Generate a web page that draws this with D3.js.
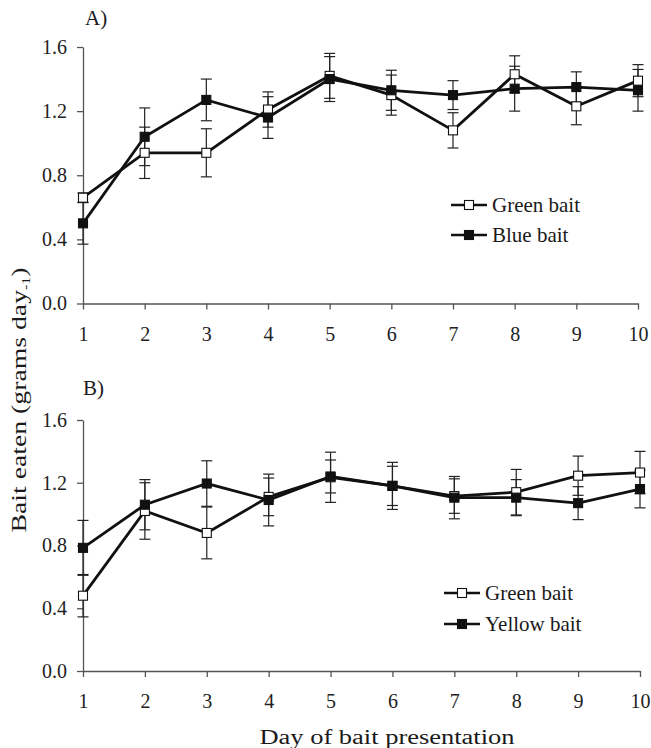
<!DOCTYPE html>
<html>
<head>
  <meta charset="utf-8">
  <style>
    html, body {
      margin: 0;
      padding: 0;
      background: #fff;
      width: 651px;
      height: 748px;
      overflow: hidden;
    }
    svg { display: block; }
    text { font-family: "Liberation Serif", "DejaVu Serif", serif; fill: #1a1a1a; }
    .axis path, .axis line { stroke: #555; stroke-width: 1.3px; }
    .axis text { font-size: 20px; fill: #222; }
    .series { fill: none; stroke: #111; stroke-width: 2.8px; stroke-linejoin: miter; }
    .err { stroke: #222; stroke-width: 1.2px; }
  </style>
</head>
<body>
  <svg width="651" height="748"></svg>

  <script src="https://d3js.org/d3.v7.min.js"></script>
  <script>
    // data
    const days = [1, 2, 3, 4, 5, 6, 7, 8, 9, 10];
    const yTicks = [0, 0.4, 0.8, 1.2, 1.6];

    const greenA    = [0.66, 0.94, 0.94, 1.21, 1.42, 1.30, 1.08, 1.43, 1.23, 1.39];
    const greenAErr = [0.03, 0.16, 0.15, 0.11, 0.14, 0.125, 0.11, 0.115, 0.115, 0.10];
    const blueA     = [0.50, 1.04, 1.27, 1.16, 1.40, 1.33, 1.30, 1.34, 1.35, 1.33];
    const blueAErr  = [0.13, 0.18, 0.13, 0.13, 0.14, 0.125, 0.09, 0.14, 0.095, 0.13];

    const greenB     = [0.48, 1.02, 0.88, 1.11, 1.235, 1.18, 1.115, 1.14, 1.245, 1.265];
    const greenBErr  = [0.135, 0.18, 0.165, 0.12, 0.16, 0.15, 0.11, 0.145, 0.125, 0.135];
    const yellowB    = [0.785, 1.06, 1.195, 1.09, 1.24, 1.18, 1.105, 1.105, 1.07, 1.16];
    const yellowBErr = [0.175, 0.16, 0.145, 0.165, 0.105, 0.125, 0.135, 0.115, 0.105, 0.12];

    const svg = d3.select("svg");

    const panels = [
      {
        label: "A)", labelPos: [85, 25],
        x0: 83, x1: 638, yTop: 47, yBot: 303.5,
        series: [
          { name: "Green bait", vals: greenA, err: greenAErr, fill: "#fff" },
          { name: "Blue bait", vals: blueA, err: blueAErr, fill: "#111" }
        ],
        legend: { x: 451, y: 205, gap: 30 }
      },
      {
        label: "B)", labelPos: [83, 395],
        x0: 83, x1: 640, yTop: 420, yBot: 671,
        series: [
          { name: "Green bait", vals: greenB, err: greenBErr, fill: "#fff" },
          { name: "Yellow bait", vals: yellowB, err: yellowBErr, fill: "#111" }
        ],
        legend: { x: 444, y: 593, gap: 31 }
      }
    ];

    panels.forEach(p => {
      const x = d3.scaleLinear().domain([1, 10]).range([p.x0, p.x1]);
      const y = d3.scaleLinear().domain([0, 1.6]).range([p.yBot, p.yTop]);

      svg.append("g")
        .attr("class", "axis")
        .attr("transform", `translate(0,${p.yBot})`)
        .call(d3.axisBottom(x).tickValues(days).tickSize(6).tickSizeOuter(0).tickPadding(17).tickFormat(d3.format("d")));

      svg.append("g")
        .attr("class", "axis")
        .attr("transform", `translate(${p.x0},0)`)
        .call(d3.axisLeft(y).tickValues(yTicks).tickSize(6).tickSizeOuter(0).tickPadding(10).tickFormat(d3.format(".1f")));

      svg.append("text")
        .attr("x", p.labelPos[0])
        .attr("y", p.labelPos[1])
        .attr("font-size", 21)
        .text(p.label);

      const line = d3.line().x((d, i) => x(days[i])).y(d => y(d));

      p.series.forEach(s => {
        const g = svg.append("g");
        // error bars
        const eb = g.selectAll(".eb").data(s.vals).join("g");
        eb.append("line").attr("class", "err")
          .attr("x1", (d, i) => x(days[i])).attr("x2", (d, i) => x(days[i]))
          .attr("y1", (d, i) => y(d + s.err[i])).attr("y2", (d, i) => y(d - s.err[i]));
        [1, -1].forEach(sign => {
          eb.append("line").attr("class", "err")
            .attr("x1", (d, i) => x(days[i]) - 5.5).attr("x2", (d, i) => x(days[i]) + 5.5)
            .attr("y1", (d, i) => y(d + sign * s.err[i])).attr("y2", (d, i) => y(d + sign * s.err[i]));
        });
      });

      p.series.forEach(s => {
        svg.append("path").datum(s.vals).attr("class", "series").attr("d", line);
        svg.append("g").selectAll("rect").data(s.vals).join("rect")
          .attr("x", (d, i) => x(days[i]) - 4.5)
          .attr("y", d => y(d) - 4.5)
          .attr("width", 9).attr("height", 9)
          .attr("fill", s.fill)
          .attr("stroke", "#111").attr("stroke-width", 1.1);
      });

      // legend
      p.series.forEach((s, i) => {
        const ly = p.legend.y + i * p.legend.gap;
        svg.append("line")
          .attr("x1", p.legend.x).attr("x2", p.legend.x + 36)
          .attr("y1", ly).attr("y2", ly)
          .attr("stroke", "#111").attr("stroke-width", 2.6);
        svg.append("rect")
          .attr("x", p.legend.x + 18 - 4.5).attr("y", ly - 4.5)
          .attr("width", 9).attr("height", 9)
          .attr("fill", s.fill).attr("stroke", "#111").attr("stroke-width", 1.1);
        svg.append("text")
          .attr("x", p.legend.x + 41).attr("y", ly + 7)
          .attr("font-size", 21)
          .text(s.name);
      });
    });

    // axis titles
    const yTitle = svg.append("text")
      .attr("transform", "translate(26,400) rotate(-90)")
      .attr("text-anchor", "middle")
      .attr("font-size", 21)
      .attr("textLength", 265)
      .attr("lengthAdjust", "spacingAndGlyphs");
    yTitle.append("tspan").text("Bait eaten (grams day");
    yTitle.append("tspan").attr("font-size", 12).attr("dy", 4).text("-1");
    yTitle.append("tspan").attr("dy", -4).text(")");

    svg.append("text")
      .attr("x", 387)
      .attr("y", 744)
      .attr("text-anchor", "middle")
      .attr("font-size", 20)
      .attr("textLength", 255)
      .attr("lengthAdjust", "spacingAndGlyphs")
      .text("Day of bait presentation");
  </script>
</body>
</html>
